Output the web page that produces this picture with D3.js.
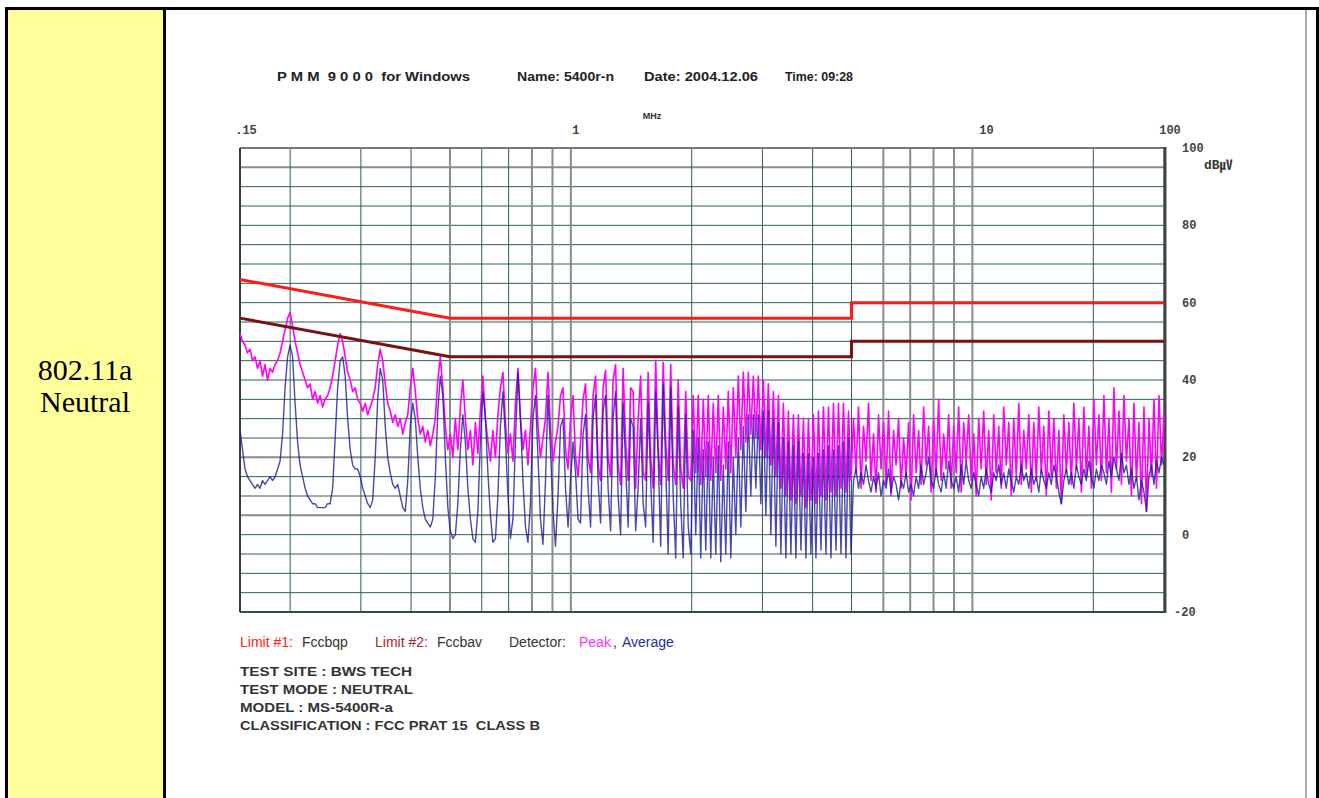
<!DOCTYPE html>
<html>
<head>
<meta charset="utf-8">
<script src="https://cdnjs.cloudflare.com/ajax/libs/d3/7.8.5/d3.min.js"></script>
<style>
body { margin: 0; background: #fff; }
svg text { font-family: "Liberation Sans", Arial, sans-serif; white-space: pre; }
</style>
</head>
<body>
<script>
// limit lines (MHz, dBuV)
var limit1F = [0.15, 0.5, 5, 5, 30];
var limit1V = [66, 56, 56, 60, 60];
var limit2F = [0.15, 0.5, 5, 5, 30];
var limit2V = [56, 46, 46, 50, 50];

// sweep readings, equal log steps from 0.15 to 30 MHz
var peakVals = [
  52,50,49,47,48,45,46,43,45,41, 44,40,43,42,44,45,47,50,53,56,
  57.5,54,50,47,44,42,40,38,39,35, 37,34,36,33,35,36,38,41,45,49,
  52,50,46,42,40,37,38,35,34,32, 34,31,33,35,38,44,48,45,39,34,
  32,29,31,28,30,26,29,31,38,43, 37,30,26,28,24,27,23,26,30,40,
  46,38,28,22,
  26,20,30,22,33,40,30,22,27,18, 29,21,32,41,30,24,19,27,20,31,
  38,42,29,21,26,19,34,43,30,22, 27,18,28,38,43,28,20,25,30,42,
  27,19,24,28,36,38,22,17,30,36, 20,15,24,35,39,20,16,36,41,18,
  14,38,42.5,20,15,40,44,18,13,43, 24,14,38,37,12,30,41,16,14,42,
  20,12,45,22,13,44.5,24,14,44,18, 13,40,17,12,37,15,14,36,16,36,
  13,35,15,36,14,34,16,36,14,33, 17,37,16,38,20,41,22,42,24,42,
  26,41,25,41,22,40,20,39,18,37, 15,36,12,34,10,32,9,31,8,31,
  10,30,7,30,9,31,8,32,10,33, 9,33,11,34,10,34,12,34,11,32,
  14,
  30,16,33,12,28,19,34,14,26,11, 31,17,29,13,32,10,27,18,30,12,
  25,15,29,9,31,16,27,13,33,18, 28,11,30,15,35,14,26,17,31,12,
  28,16,33,11,29,19,31,14,26,10, 30,17,32,13,27,9,31,16,28,12,
  33,18,29,10,30,15,34,13,27,17, 31,11,29,14,33,16,28,10,32,15,
  30,12,27,8,31,16,29,13,34,17, 30,11,33,15,28,12,35,18,31,14,
  36,16,30,11,38,17,32,13,36,19, 30,10,34,14,29,8,33,6,30,15,
  35,12,36,18,31
];
var avgVals = [
  27,22,17,15,14,13,12,13,12,14, 13,14,15,14,15,17,19,26,38,46,
  49,46,34,24,18,15,12,10,9,8, 8,7,7,7,7,8,8,12,25,38,
  45,46,41,30,22,18,17,17,15,12, 10,8,7,9,20,35,43,40,28,20,
  16,13,12,13,10,7,6,14,28,34, 30,20,12,7,4,3,2,4,15,32,
  41,36,20,7,
  1,-1,0,8,22,31,24,12,4,-1, -2,6,24,37,30,16,5,-2,-1,10,
  28,37,25,10,-1,4,24,42,30,14, 2,-2,8,30,36,20,4,-2.5,14,36,
  22,6,-3,10,28,30,12,2,14,24, 16,4,3,26,31,12,2,30,36,14,
  3,32,36,12,1,30,37,10,0,34, 18,2,30,28,1,12,30,8,2,34,
  14,-2,37,20,-3,39,18,-5,38,10, -6,33,8,-6,31,2,-5,27,0,25,
  -6,22,-4,24,-6,20,-5,23,-7,18, -5,24,-6,20,0,25,2,28,6,31,
  10,31,12,31,8,32,5,32,0,30, -3,29,-5,25,-6,24,-5,23,-6,24,
  -4,21,-6,21,-5,20,-6,21,-4,22, -5,23,-6,22,-4,23,-5,24,-6,25,
  -5,
  14,17,12,16,13,18,14,11,15,12, 16,10,14,12,17,11,15,13,9,14,
  12,16,11,13,10,15,12,18,13,16, 20,14,12,17,13,11,16,12,19,14,
  12,15,11,18,13,19,14,12,16,13, 10,15,12,17,13,11,16,14,18,13,
  16,12,17,14,11,15,13,18,14,16, 12,17,13,15,11,17,14,12,16,13,
  18,15,11,8,14,17,13,16,12,18, 15,13,17,14,19,15,12,17,14,18,
  16,13,19,15,20,17,14,21,16,18, 13,17,12,15,9,14,11,6,15,18,
  13,19,16,20,18
];

var dbTicks = [100, 80, 60, 40, 20, 0, -20];
var mhzTicks = [0.15, 1, 10, 30];
var mhzLabels = [".15", "1", "10", "100"];
var heavyF = [0.5, 0.8, 0.9, 1, 6, 7, 8, 9, 10];
var heavyDb = [95, 20, 5];

var titleItems = ["P M M  9 0 0 0  for Windows", "Name: 5400r-n", "Date: 2004.12.06", "Time: 09:28"];
var legendItems = ["Limit #1:", "Fccbqp", "Limit #2:", "Fccbav", "Detector:", "Peak", ",", "Average"];
var infoLines = ["TEST SITE : BWS TECH", "TEST MODE : NEUTRAL", "MODEL : MS-5400R-a", "CLASSIFICATION : FCC PRAT 15  CLASS B"];

var W = 1319, H = 798;
var svg = d3.select("body").append("svg").attr("width", W).attr("height", H);

// table cells
svg.append("rect").attr("x", 8).attr("y", 10).attr("width", 156).attr("height", H).attr("fill", "#ffff99");
svg.append("rect").attr("x", 6.5).attr("y", 8.5).attr("width", 1311).attr("height", H + 10)
  .attr("fill", "none").attr("stroke", "#000").attr("stroke-width", 3);
svg.append("line").attr("x1", 164.5).attr("x2", 164.5).attr("y1", 8).attr("y2", H).attr("stroke", "#000").attr("stroke-width", 3);
svg.append("line").attr("x1", 1306).attr("x2", 1306).attr("y1", 10).attr("y2", H).attr("stroke", "#aaa").attr("stroke-width", 2);

var serif = "'Liberation Serif', 'Times New Roman', serif";
svg.append("text").attr("x", 85).attr("y", 380).attr("text-anchor", "middle")
  .style("font-family", serif).style("font-size", "30px").text("802.11a");
svg.append("text").attr("x", 85).attr("y", 412).attr("text-anchor", "middle")
  .style("font-family", serif).style("font-size", "30px").text("Neutral");

var x = d3.scaleLog().domain([0.15, 30]).range([240, 1164]);
var y = d3.scaleLinear().domain([-20, 100]).range([612, 148]);

// title
var titleX = [277, 517, 644, 785];
var titleLen = [193, 97, 114, 68];
svg.selectAll(".title").data(titleItems).enter().append("text")
  .attr("x", function (d, i) { return titleX[i]; }).attr("y", 81)
  .attr("textLength", function (d, i) { return titleLen[i]; }).attr("lengthAdjust", "spacingAndGlyphs")
  .style("font-size", "12px").style("font-weight", "bold").attr("fill", "#222")
  .text(function (d) { return d; });

svg.append("text").attr("x", 652).attr("y", 119).attr("text-anchor", "middle")
  .style("font-size", "9px").style("font-weight", "bold").attr("fill", "#333").text("MHz");

// grid
var g = svg.append("g");
var gridDb = d3.range(-20, 101, 5);
g.selectAll(".hg").data(gridDb).enter().append("line")
  .attr("x1", x(0.15)).attr("x2", x(30))
  .attr("y1", function (d) { return y(d); }).attr("y2", function (d) { return y(d); })
  .attr("stroke", function (d) { return heavyDb.indexOf(d) >= 0 ? "#8c8c8c" : "#2f5c5c"; })
  .attr("stroke-width", function (d) { return heavyDb.indexOf(d) >= 0 ? 2 : 1; });

g.selectAll(".vg").data(x.ticks()).enter().append("line")
  .attr("x1", function (d) { return x(d); }).attr("x2", function (d) { return x(d); })
  .attr("y1", y(100)).attr("y2", y(-20))
  .attr("stroke", function (d) { return heavyF.indexOf(+d.toPrecision(3)) >= 0 ? "#8c8c8c" : "#2f5c5c"; })
  .attr("stroke-width", function (d) { return heavyF.indexOf(+d.toPrecision(3)) >= 0 ? 2 : 1; });

// frame
g.append("line").attr("x1", x(0.15)).attr("x2", x(30)).attr("y1", y(100)).attr("y2", y(100)).attr("stroke", "#777").attr("stroke-width", 2);
g.append("line").attr("x1", x(0.15)).attr("x2", x(30)).attr("y1", y(-20)).attr("y2", y(-20)).attr("stroke", "#2f4f4f").attr("stroke-width", 2);
g.append("line").attr("x1", x(0.15)).attr("x2", x(0.15)).attr("y1", y(100)).attr("y2", y(-20)).attr("stroke", "#2f3f3f").attr("stroke-width", 2);
g.append("line").attr("x1", x(30) + 1).attr("x2", x(30) + 1).attr("y1", y(100) - 1).attr("y2", y(-20) + 1).attr("stroke", "#444").attr("stroke-width", 3);

// traces
function sweep(vals) {
  var n = vals.length;
  return vals.map(function (v, i) {
    return [0.15 * Math.pow(30 / 0.15, i / (n - 1)), v];
  });
}
var line = d3.line().x(function (d) { return x(d[0]); }).y(function (d) { return y(d[1]); });

svg.append("path").datum(sweep(peakVals)).attr("d", line)
  .attr("fill", "none").attr("stroke", "#ff00ff").attr("stroke-width", 1.6).attr("stroke-linejoin", "round");
svg.append("path").datum(sweep(avgVals)).attr("d", line)
  .attr("fill", "none").attr("stroke", "#1c1c96").attr("stroke-width", 1.4).attr("stroke-opacity", 0.8).attr("stroke-linejoin", "round");

// limits
function pairs(f, v) { return f.map(function (d, i) { return [d, v[i]]; }); }
svg.append("path").datum(pairs(limit1F, limit1V)).attr("d", line)
  .attr("fill", "none").attr("stroke", "#ff1a1a").attr("stroke-width", 3);
svg.append("path").datum(pairs(limit2F, limit2V)).attr("d", line)
  .attr("fill", "none").attr("stroke", "#7a1010").attr("stroke-width", 3);

// axis labels
var mono = "'Liberation Mono', 'Courier New', monospace";
var topDx = [6, 5, 14, 6];
svg.selectAll(".tl").data(mhzTicks).enter().append("text")
  .attr("x", function (d, i) { return x(d) + topDx[i]; }).attr("y", 134).attr("text-anchor", "middle")
  .style("font-family", mono).style("font-size", "12px").style("font-weight", "bold").attr("fill", "#444")
  .text(function (d, i) { return mhzLabels[i]; });

svg.selectAll(".rl").data(dbTicks).enter().append("text")
  .attr("x", function (d) { return d < 0 ? 1174 : 1182; }).attr("y", function (d) { return y(d) + 4; })
  .style("font-family", mono).style("font-size", "12px").style("font-weight", "bold").attr("fill", "#444")
  .text(function (d) { return d; });

svg.append("text").attr("x", 1204).attr("y", 169)
  .style("font-family", "'Liberation Mono', 'Noto Sans CJK KR', monospace").style("font-size", "13px").style("font-weight", "bold").attr("fill", "#333")
  .text("dB㎶");

// legend
var legX = [240, 302, 375, 437, 509, 579, 613, 622];
var legC = ["#ff2020", "#333", "#9b2a2a", "#333", "#333", "#ff33ff", "#333", "#2a2aa0"];
svg.selectAll(".leg").data(legendItems).enter().append("text")
  .attr("x", function (d, i) { return legX[i]; }).attr("y", 647)
  .style("font-size", "14px").attr("fill", function (d, i) { return legC[i]; })
  .text(function (d) { return d; });

var infoLen = [172, 173, 153, 300];
svg.selectAll(".info").data(infoLines).enter().append("text")
  .attr("x", 240).attr("y", function (d, i) { return 676 + i * 18; })
  .attr("textLength", function (d, i) { return infoLen[i]; }).attr("lengthAdjust", "spacingAndGlyphs")
  .style("font-size", "13.5px").style("font-weight", "bold").attr("fill", "#333")
  .text(function (d) { return d; });
</script>
</body>
</html>
